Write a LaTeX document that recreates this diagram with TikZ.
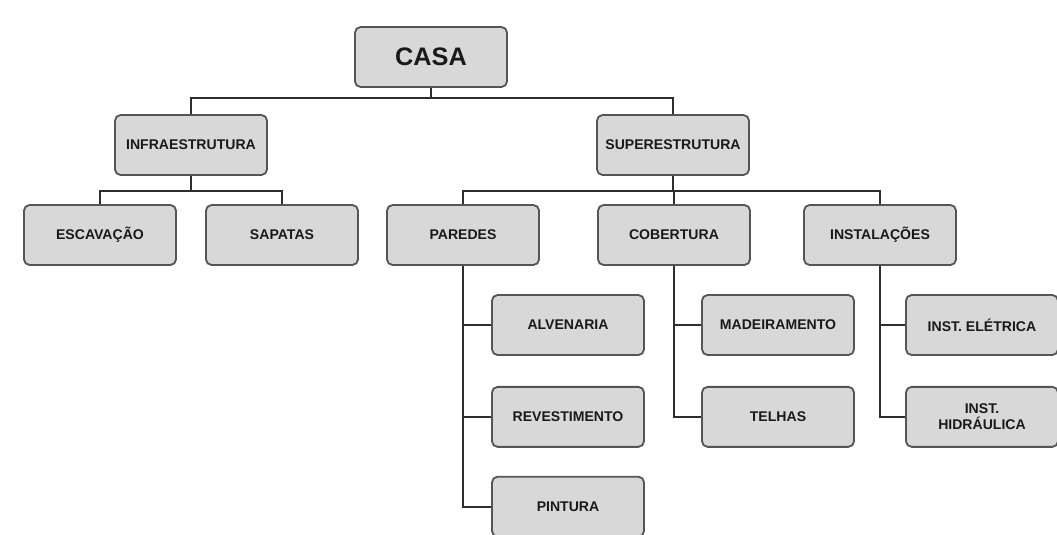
\documentclass[tikz,border=0pt]{standalone}
\usepackage{fontspec}
\setmainfont{Liberation Sans}
\usetikzlibrary{positioning}

\definecolor{boxfill}{HTML}{D8D8D8}
\definecolor{boxline}{HTML}{555555}
\definecolor{wire}{HTML}{2E2E2E}

\tikzset{
    item/.style={draw=boxline, line width=1.3pt, fill=boxfill, rounded corners=4pt,
        minimum width=3.8cm, minimum height=1.5cm, align=center,
        font=\bfseries\fontsize{10}{11}\selectfont, text=black!90},
    link/.style={draw=wire, line width=1.4pt},
}

\begin{document}
\begin{tikzpicture}[x=0.025cm, y=-0.025cm, node distance=0.75cm]
    \useasboundingbox (0,0) rectangle (1057,534);
    % top level
    \node[item, font=\bfseries\fontsize{18}{20}\selectfont] (casa) at (431,57) {CASA};
    \node[item] (infra) at (191,145) {INFRAESTRUTURA};
    \node[item] (super) at (673,145) {SUPERESTRUTURA};
    % second level
    \node[item] (escavacao) at (100,235) {ESCAVAÇÃO};
    \node[item] (sapatas) at (282,235) {SAPATAS};
    \node[item] (paredes) at (463,235) {PAREDES};
    \node[item] (cobertura) at (674,235) {COBERTURA};
    \node[item] (instalacoes) at (880,235) {INSTALAÇÕES};
    % third level
    \node[item] (alvenaria) at (568,325) {ALVENARIA};
    \node[item, below=of alvenaria] (revestimento) {REVESTIMENTO};
    \node[item, below=0.7cm of revestimento] (pintura) {PINTURA};
    \node[item] (madeiramento) at (778,325) {MADEIRAMENTO};
    \node[item, below=of madeiramento] (telhas) {TELHAS};
    \node[item] (eletrica) at (982,325) {INST. ELÉTRICA};
    \node[item, below=of eletrica] (hidraulica) {INST.\\HIDRÁULICA};

    % connectors
    \draw[link] (casa.south) -- ++(0,10) -| (infra.north);
    \draw[link] (casa.south) -- ++(0,10) -| (super.north);
    \draw[link] (infra.south) -- ++(0,15) -| (escavacao.north);
    \draw[link] (infra.south) -- ++(0,15) -| (sapatas.north);
    \draw[link] (super.south) -- ++(0,15) -| (paredes.north);
    \draw[link] (super.south) -- ++(0,15) -| (cobertura.north);
    \draw[link] (super.south) -- ++(0,15) -| (instalacoes.north);
    \foreach \kid in {alvenaria, revestimento, pintura}
        \draw[link] (paredes.south) |- (\kid.west);
    \foreach \kid in {madeiramento, telhas}
        \draw[link] (cobertura.south) |- (\kid.west);
    \foreach \kid in {eletrica, hidraulica}
        \draw[link] (instalacoes.south) |- (\kid.west);
\end{tikzpicture}
\end{document}
